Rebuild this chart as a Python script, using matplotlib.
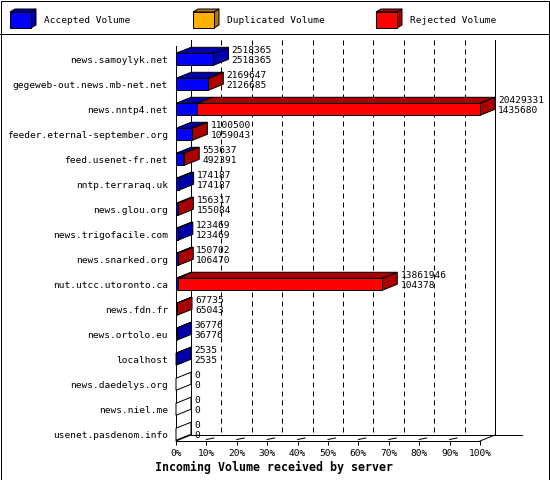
import numpy as np
import matplotlib.pyplot as plt
from matplotlib.patches import Polygon, Rectangle

servers = ["news.samoylyk.net", "gegeweb-out.news.mb-net.net", "news.nntp4.net",
           "feeder.eternal-september.org", "feed.usenet-fr.net", "nntp.terraraq.uk",
           "news.glou.org", "news.trigofacile.com", "news.snarked.org",
           "nut.utcc.utoronto.ca", "news.fdn.fr", "news.ortolo.eu", "localhost",
           "news.daedelys.org", "news.niel.me", "usenet.pasdenom.info"]
total_volume = [2518365, 2169647, 20429331, 1100500, 553637, 174187, 156317, 123469,
                150702, 13861946, 67735, 36776, 2535, 0, 0, 0]
accepted_volume = [2518365, 2126685, 1435680, 1059043, 492391, 174187, 155084, 123469,
                   106470, 104378, 65043, 36776, 2535, 0, 0, 0]
duplicated_volume = [0] * len(servers)
legend_labels = ["Accepted Volume", "Duplicated Volume", "Rejected Volume"]
pct_ticks = list(range(0, 101, 10))

FRONT = ["#0000ff", "#ffb000", "#ff0000"]
DARK = ["#0000aa", "#b07800", "#aa0000"]
MONO = "DejaVu Sans Mono"
LW = 0.72  # one pixel

W, H = 550, 480
fig = plt.figure(figsize=(W / 100, H / 100), dpi=100)
fig.patch.set_facecolor("white")

# frame + legend strip
fig.add_artist(Rectangle((0.5 / W, 0.5 / H), 1 - 1.5 / W, 1 - 1.5 / H, transform=fig.transFigure,
                         fill=False, ec="black", lw=LW))
fig.add_artist(plt.Line2D([0, 1], [1 - 33.5 / H] * 2, transform=fig.transFigure, color="black", lw=LW))

lax = fig.add_axes([0, 1 - 33.5 / H, 1, 33.5 / H])
lax.set_xlim(0, W)
lax.set_ylim(33.5, 0)
lax.axis("off")
for k, lab in enumerate(legend_labels):
  x0 = 10 + 183 * k
  lax.add_patch(Polygon([(x0, 12), (x0 + 5, 9), (x0 + 26, 9), (x0 + 21, 12)], fc=DARK[k], ec="black", lw=LW))
  lax.add_patch(Polygon([(x0 + 21, 12), (x0 + 26, 9), (x0 + 26, 25), (x0 + 21, 28)], fc=DARK[k], ec="black", lw=LW))
  lax.add_patch(Rectangle((x0, 12), 21, 16, fc=FRONT[k], ec="black", lw=LW))
  lax.text(x0 + 34, 20.5, lab, family=MONO, fontsize=6.8, va="center", ha="left")

# main chart: front plane of the 3D box
n = len(servers)
xmax = max(total_volume)
ax = fig.add_axes([176 / W, 1 - 441 / H, 304 / W, 395 / H])
ax.set_xlim(0, xmax)
ytop, ybot = -0.532, n - 0.73
ax.set_ylim(ybot, ytop)
ax.patch.set_alpha(0)
for s in ["top", "right"]:
  ax.spines[s].set_visible(False)
for s in ["left", "bottom"]:
  ax.spines[s].set_linewidth(LW)

ax.set_xticks([xmax * p / 100 for p in pct_ticks])
ax.set_xticklabels([f"{p}%" for p in pct_ticks], family=MONO, fontsize=6.8)
ax.tick_params(axis="x", length=3, width=LW, pad=2.5)
ax.set_yticks(range(n))
ax.set_yticklabels(servers, family=MONO, fontsize=6.8)
ax.tick_params(axis="y", length=0, pad=5.8)

# depth offset (15px right, 6px up) in data units
p0 = ax.transData.transform((0, 0))
dd = ax.transData.inverted().transform(p0 + np.array([15, 6]))
ddx, ddy = dd[0], dd[1]
bar_h = 12 / 25.0

# back wall
for p in pct_ticks:
  v = xmax * p / 100
  style = "-" if p in (0, 100) else (0, (5, 4))
  ax.plot([v + ddx, v + ddx], [ytop + ddy, ybot + ddy], color="black", lw=LW, ls=style,
          clip_on=False, zorder=1)
  if 0 < p < 100:
    ax.plot([v, v + 0.5 * ddx], [ybot - 0.06, ybot + 0.5 * ddy], color="black", lw=LW,
            clip_on=False, zorder=1)
ax.plot([ddx, xmax * 1.089 + ddx], [ybot + ddy] * 2, color="black", lw=LW, clip_on=False, zorder=1)
for v in (0, xmax):
  ax.plot([v, v + ddx], [ybot, ybot + ddy], color="black", lw=LW, clip_on=False, zorder=1)

# bars
for i in range(n):
  tot = total_volume[i]
  acc = accepted_volume[i]
  dup = duplicated_volume[i]
  segs = [acc, dup, tot - acc - dup]
  yt, yb = i - bar_h / 2, i + bar_h / 2
  left = 0
  last = None
  for k, val in enumerate(segs):
    if val <= 0:
      continue
    right = left + val
    ax.add_patch(Polygon([(left, yt), (right, yt), (right + ddx, yt + ddy), (left + ddx, yt + ddy)],
                         fc=DARK[k], ec="black", lw=LW, clip_on=False, zorder=3))
    ax.add_patch(Rectangle((left, yt), val, bar_h, fc=FRONT[k], ec="black", lw=LW,
                           clip_on=False, zorder=4))
    left = right
    last = k
  side = "white" if last is None else DARK[last]
  ax.add_patch(Polygon([(tot, yt), (tot, yb), (tot + ddx, yb + ddy), (tot + ddx, yt + ddy)],
                       fc=side, ec="black", lw=LW, clip_on=False, zorder=3))
  ax.annotate(str(tot), xy=(tot, i), xytext=(13, 6.5), textcoords="offset points",
              family=MONO, fontsize=6.8, va="center", ha="left", annotation_clip=False, zorder=5)
  ax.annotate(str(acc), xy=(tot, i), xytext=(13, -0.8), textcoords="offset points",
              family=MONO, fontsize=6.8, va="center", ha="left", annotation_clip=False, zorder=5)

fig.text(274 / W, 1 - 467 / H, "Incoming Volume received by server", family=MONO,
         fontsize=8.4, fontweight="bold", ha="center", va="center")

fig.savefig("out.png", dpi=100)
